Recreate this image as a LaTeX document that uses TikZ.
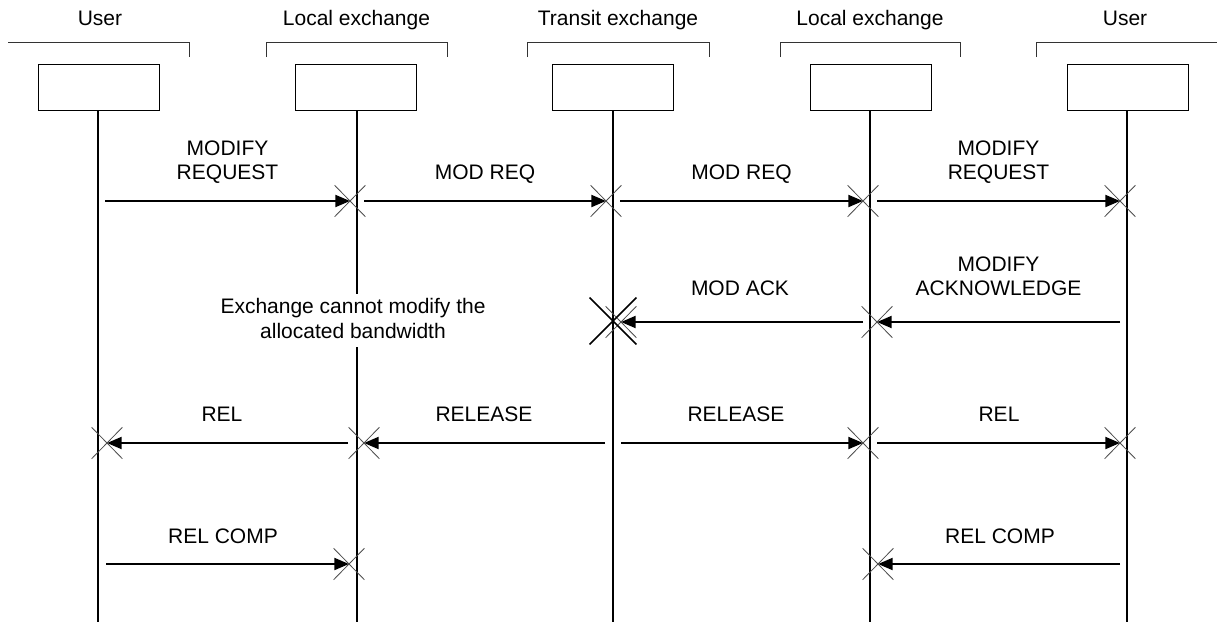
\documentclass[tikz,border=0pt]{standalone}
\usepackage{fontspec}
\setmainfont{Liberation Sans}
\usetikzlibrary{arrows.meta,shapes.misc}
\tikzset{
  txt/.style={font=\fontsize{15.75}{18}\selectfont, inner sep=0pt},
  hdr/.style={txt, anchor=base},
  lbl/.style={txt, anchor=base},
  entbox/.style={draw, line width=0.75pt, minimum width=90.75pt, minimum height=34.5pt, inner sep=0pt},
  brk/.style={draw=black!80, line width=0.75pt},
  lifeline/.style={line width=1.5pt},
  msg/.style={line width=1.5pt, -{Triangle[length=11pt,width=9pt]}},
  xcross/.style={cross out, draw=black!70, line width=0.6pt, minimum width=22.5pt, minimum height=23pt, inner sep=0pt},
  bigx/.style={cross out, draw=black, line width=1.1pt, minimum width=34pt, minimum height=34pt, inner sep=0pt},
}
\newcommand{\twol}[2]{\begin{tabular}[b]{@{}c@{}}#1\\#2\end{tabular}}
\begin{document}
\begin{tikzpicture}[x=0.75pt,y=-0.75pt]
\useasboundingbox (0,0) rectangle (1217,622);
% headers
\node[hdr] (h1) at (100,25) {User};
\node[hdr] (h2) at (356.5,25) {Local exchange};
\node[hdr] (h3) at (618,25) {Transit exchange};
\node[hdr] (h4) at (870,25) {Local exchange};
\node[hdr] (h5) at (1125,25) {User};
% brackets
\draw[brk] (8,42) -- (189,42) -- (189,57);
\draw[brk] (266,57) -- (266,42) -- (447,42) -- (447,57);
\draw[brk] (527,57) -- (527,42) -- (709,42) -- (709,57);
\draw[brk] (780,57) -- (780,42) -- (960,42) -- (960,57);
\draw[brk] (1036,57) -- (1036,42) -- (1217,42);
% entity boxes
\node[entbox] (b1) at (98.5,87) {};
\node[entbox] (b2) at (356,87) {};
\node[entbox] (b3) at (612.5,87) {};
\node[entbox] (b4) at (870.5,87) {};
\node[entbox] (b5) at (1127.5,87) {};
% lifeline ends
\coordinate (e1) at (98,622);
\coordinate (e2) at (357,622);
\coordinate (e3) at (613,622);
\coordinate (e4) at (870,622);
\coordinate (e5) at (1127,622);
\draw[lifeline] (b1.south -| e1) -- (e1);
\draw[lifeline] (b2.south -| e2) -- (e2);
\draw[lifeline] (b3.south -| e3) -- (e3);
\draw[lifeline] (b4.south -| e4) -- (e4);
\draw[lifeline] (b5.south -| e5) -- (e5);
% note over local exchange
\node[font=\fontsize{15.75}{18.75}\selectfont, fill=white, inner xsep=2pt, inner ysep=1pt, anchor=base] (note) at (353,338)
  {\twol{Exchange cannot modify the}{allocated bandwidth}};
% ---- row 1 : modify request
\coordinate (r1a) at (105,201);  \coordinate (r1b) at (350,201);
\coordinate (r1c) at (364,201);  \coordinate (r1d) at (606,201);
\coordinate (r1e) at (620,201);  \coordinate (r1f) at (863,201);
\coordinate (r1g) at (877,201);  \coordinate (r1h) at (1120,201);
\draw[msg] (r1a) -- (r1b);
\draw[msg] (r1c) -- (r1d);
\draw[msg] (r1e) -- (r1f);
\draw[msg] (r1g) -- (r1h);
\node[xcross] (x1b) at (r1b) {};
\node[xcross] (x1d) at (r1d) {};
\node[xcross] (x1f) at (r1f) {};
\node[xcross] (x1h) at (r1h) {};
\node[lbl] (l1a) at (227.5,179) {\twol{MODIFY}{REQUEST}};
\node[lbl] (l1b) at (485,179) {MOD REQ};
\node[lbl] (l1c) at (741.5,179) {MOD REQ};
\node[lbl] (l1d) at (998.5,179) {\twol{MODIFY}{REQUEST}};
% ---- row 2 : acknowledge
\coordinate (r2a) at (1120,322); \coordinate (r2b) at (877,322);
\coordinate (r2c) at (863,322);  \coordinate (r2d) at (621,322);
\coordinate (r2x) at (613,321);
\draw[msg] (r2a) -- (r2b);
\draw[msg] (r2c) -- (r2d);
\node[xcross] (x2b) at (r2b) {};
\node[xcross] (x2d) at (r2d) {};
\node[bigx] (x2x) at (r2x) {};
\node[lbl] (l2a) at (998.5,295) {\twol{MODIFY}{ACKNOWLEDGE}};
\node[lbl] (l2b) at (740,295) {MOD ACK};
% ---- row 3 : release
\coordinate (r3a) at (348,443);  \coordinate (r3b) at (107,443);
\coordinate (r3c) at (605,443);  \coordinate (r3d) at (364,443);
\coordinate (r3e) at (621,443);  \coordinate (r3f) at (863,443);
\coordinate (r3g) at (877,443);  \coordinate (r3h) at (1120,443);
\draw[msg] (r3a) -- (r3b);
\draw[msg] (r3c) -- (r3d);
\draw[msg] (r3e) -- (r3f);
\draw[msg] (r3g) -- (r3h);
\node[xcross] (x3b) at (r3b) {};
\node[xcross] (x3d) at (r3d) {};
\node[xcross] (x3f) at (r3f) {};
\node[xcross] (x3h) at (r3h) {};
\node[lbl] (l3a) at (222,421) {REL};
\node[lbl] (l3b) at (484,421) {RELEASE};
\node[lbl] (l3c) at (736,421) {RELEASE};
\node[lbl] (l3d) at (999,421) {REL};
% ---- row 4 : release complete
\coordinate (r4a) at (106,564);  \coordinate (r4b) at (349,564);
\coordinate (r4c) at (1120,564); \coordinate (r4d) at (878,564);
\draw[msg] (r4a) -- (r4b);
\draw[msg] (r4c) -- (r4d);
\node[xcross] (x4b) at (r4b) {};
\node[xcross] (x4d) at (r4d) {};
\node[lbl] (l4a) at (223,543) {REL COMP};
\node[lbl] (l4b) at (1000,543) {REL COMP};
\end{tikzpicture}
\end{document}
